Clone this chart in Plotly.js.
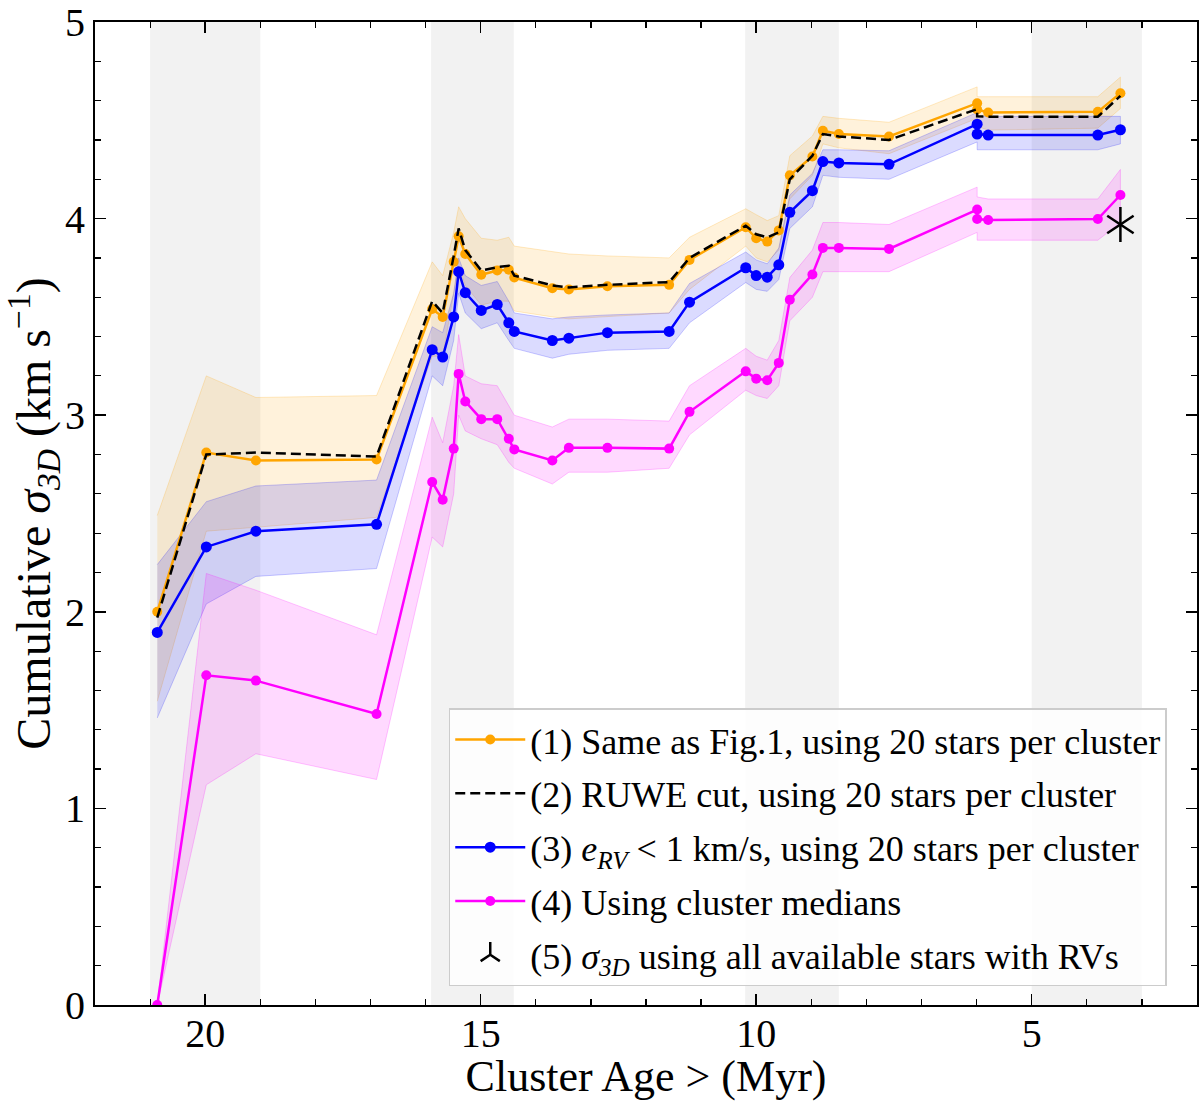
<!DOCTYPE html>
<html>
<head>
<meta charset="utf-8">
<script src="https://cdn.plot.ly/plotly-3.0.1.min.js"></script>
<style>
  html, body { margin: 0; padding: 0; background: #fff; }
  #chart { width: 1200px; height: 1101px; }
</style>
</head>
<body>
<div id="chart"></div>
<script>
// ---- data ----
const ages = [20.87, 19.98, 19.08, 16.89, 15.88, 15.69, 15.49, 15.40, 15.28, 14.99, 14.70, 14.49, 14.39, 13.70, 13.40, 12.70, 11.58, 11.21, 10.19, 10.00, 9.80, 9.59, 9.39, 8.98, 8.79, 8.50, 7.59, 5.99, 5.99, 5.79, 3.80, 3.39];

const sameAsFig1   = [2.00, 2.81, 2.77, 2.775, 3.54, 3.50, 3.78, 3.91, 3.82, 3.714, 3.736, 3.74, 3.70, 3.646, 3.64, 3.656, 3.663, 3.79, 3.956, 3.90, 3.883, 3.94, 4.22, 4.316, 4.447, 4.43, 4.418, 4.587, 4.555, 4.54, 4.543, 4.638];
const sameAsFig1Hi = [2.49, 3.20, 3.09, 3.10, 3.78, 3.71, 3.93, 4.06, 4.00, 3.90, 3.89, 3.905, 3.86, 3.83, 3.82, 3.81, 3.80, 3.905, 4.05, 4.02, 3.99, 4.015, 4.32, 4.42, 4.52, 4.51, 4.49, 4.67, 4.62, 4.62, 4.62, 4.72];
const sameAsFig1Lo = [1.545, 2.41, 2.43, 2.48, 3.30, 3.30, 3.62, 3.76, 3.66, 3.56, 3.58, 3.58, 3.53, 3.50, 3.49, 3.50, 3.52, 3.64, 3.86, 3.80, 3.78, 3.84, 4.10, 4.22, 4.38, 4.36, 4.33, 4.51, 4.47, 4.45, 4.46, 4.56];

const ruweCut = [1.97, 2.80, 2.81, 2.79, 3.58, 3.52, 3.81, 3.95, 3.84, 3.736, 3.753, 3.76, 3.71, 3.66, 3.65, 3.663, 3.677, 3.80, 3.964, 3.92, 3.905, 3.93, 4.20, 4.32, 4.43, 4.418, 4.40, 4.557, 4.52, 4.518, 4.518, 4.624];

const eRVcut   = [1.895, 2.33, 2.41, 2.445, 3.333, 3.296, 3.50, 3.73, 3.623, 3.533, 3.563, 3.47, 3.426, 3.38, 3.392, 3.42, 3.426, 3.575, 3.75, 3.71, 3.702, 3.765, 4.032, 4.142, 4.29, 4.283, 4.276, 4.48, 4.43, 4.425, 4.425, 4.452];
const eRVcutHi = [2.24, 2.56, 2.64, 2.67, 3.45, 3.42, 3.62, 3.80, 3.71, 3.66, 3.68, 3.58, 3.52, 3.49, 3.50, 3.51, 3.52, 3.67, 3.83, 3.79, 3.77, 3.85, 4.12, 4.23, 4.35, 4.35, 4.345, 4.54, 4.52, 4.52, 4.52, 4.52];
const eRVcutLo = [1.46, 2.04, 2.18, 2.22, 3.20, 3.15, 3.38, 3.62, 3.52, 3.44, 3.47, 3.38, 3.34, 3.29, 3.31, 3.33, 3.34, 3.47, 3.675, 3.64, 3.63, 3.69, 3.95, 4.06, 4.22, 4.21, 4.20, 4.39, 4.35, 4.35, 4.35, 4.38];

const medians   = [0.0, 1.677, 1.65, 1.48, 2.66, 2.57, 2.83, 3.21, 3.07, 2.98, 2.98, 2.88, 2.826, 2.77, 2.834, 2.834, 2.83, 3.017, 3.223, 3.186, 3.178, 3.266, 3.587, 3.716, 3.851, 3.851, 3.846, 4.046, 3.998, 3.993, 3.998, 4.12];
const mediansHi = [0.0, 2.195, 2.11, 1.883, 2.99, 2.86, 3.15, 3.41, 3.20, 3.16, 3.15, 3.05, 3.00, 2.94, 2.98, 2.98, 2.97, 3.15, 3.34, 3.30, 3.28, 3.38, 3.70, 3.84, 3.98, 3.98, 3.97, 4.16, 4.11, 4.10, 4.10, 4.25];
const mediansLo = [0.0, 1.12, 1.278, 1.147, 2.38, 2.33, 2.60, 3.00, 2.92, 2.88, 2.85, 2.76, 2.73, 2.65, 2.71, 2.71, 2.73, 2.90, 3.127, 3.10, 3.085, 3.15, 3.48, 3.60, 3.73, 3.73, 3.73, 3.93, 3.89, 3.89, 3.89, 3.98];

const allStarsAge = [3.39];
const allStarsSigma = [3.97];

const bandStart = [21.0, 15.9, 10.2, 5.0];
const bandEnd   = [19.0, 14.4, 8.5, 3.0];

const xTickVals = [20, 15, 10, 5];
const yTickVals = [0, 1, 2, 3, 4, 5];

const legendNames = [
  "(1) Same as Fig.1, using 20 stars per cluster",
  "(2) RUWE cut, using 20 stars per cluster",
  "(3) <i>e<sub>RV</sub></i> &lt; 1 km/s, using 20 stars per cluster",
  "(4) Using cluster medians",
  "(5) <i>σ<sub>3D</sub></i> using all available stars with RVs"
];

// ---- build traces ----
function band(lo, hi, fill, edge) {
  return {
    x: ages.concat(ages.slice().reverse()),
    y: hi.concat(lo.slice().reverse()),
    type: 'scatter', mode: 'lines', fill: 'toself',
    fillcolor: fill, line: {color: edge, width: 1},
    hoverinfo: 'skip', showlegend: false
  };
}

const ORANGE = '#FFA500', BLUE = '#0000FF', PINK = '#FF00FF';

const traces = [
  band(sameAsFig1Lo, sameAsFig1Hi, 'rgba(255,165,0,0.14)', 'rgba(255,165,0,0.22)'),
  band(eRVcutLo, eRVcutHi, 'rgba(0,0,255,0.14)', 'rgba(0,0,255,0.20)'),
  band(mediansLo, mediansHi, 'rgba(255,0,255,0.15)', 'rgba(255,0,255,0.22)'),
  {x: ages, y: sameAsFig1, type: 'scatter', mode: 'lines+markers', name: legendNames[0],
   legendgroup: 'g1', line: {color: ORANGE, width: 2.5}, marker: {color: ORANGE, size: 10}},
  {x: ages, y: ruweCut, type: 'scatter', mode: 'lines', name: legendNames[1],
   legendgroup: 'g2', line: {color: 'black', width: 2.5, dash: '10px,5px'}},
  {x: ages, y: eRVcut, type: 'scatter', mode: 'lines+markers', name: legendNames[2],
   legendgroup: 'g3', line: {color: BLUE, width: 2.5}, marker: {color: BLUE, size: 11}},
  {x: ages, y: medians, type: 'scatter', mode: 'lines+markers', name: legendNames[3],
   legendgroup: 'g4', line: {color: PINK, width: 2.5}, marker: {color: PINK, size: 10}},
  {x: allStarsAge, y: allStarsSigma, type: 'scatter', mode: 'markers', name: legendNames[4],
   legendgroup: 'g5', marker: {symbol: 'y-up-open', size: 22, color: 'black', line: {color: 'black', width: 2.5}}},
  {x: allStarsAge, y: allStarsSigma, type: 'scatter', mode: 'markers', showlegend: false,
   legendgroup: 'g5', hoverinfo: 'skip',
   marker: {symbol: 'y-down-open', size: 22, color: 'black', line: {color: 'black', width: 2.5}}}
];

const shapes = bandStart.map((s, i) => ({
  type: 'rect', xref: 'x', yref: 'paper', x0: s, x1: bandEnd[i], y0: 0, y1: 1,
  fillcolor: '#f2f2f2', line: {width: 0}, layer: 'below'
}));

const FONT = 'Liberation Serif, Times New Roman, serif';

const layout = {
  width: 1200, height: 1101,
  margin: {l: 95, r: 3, t: 22, b: 96},
  paper_bgcolor: '#fff', plot_bgcolor: 'rgba(0,0,0,0)',
  font: {family: FONT, color: 'black', size: 34},
  showlegend: true,
  shapes: shapes,
  xaxis: {
    range: [22, 2], tickvals: xTickVals, ticks: 'inside', ticklen: 11, tickwidth: 1.5,
    minor: {dtick: 1, ticks: 'inside', ticklen: 6, tickwidth: 1.2, tickcolor: 'black'},
    tickcolor: 'black', showgrid: false, zeroline: false,
    showline: true, linecolor: 'black', linewidth: 2, mirror: 'allticks',
    tickfont: {family: FONT, size: 40}, ticklabelstandoff: -8, ticklabeloverflow: 'allow',
    title: {text: 'Cluster Age &gt; (Myr)', font: {family: FONT, size: 44}, standoff: 14}
  },
  yaxis: {
    range: [0, 5], tickvals: yTickVals, ticks: 'inside', ticklen: 11, tickwidth: 1.5,
    minor: {dtick: 0.2, ticks: 'inside', ticklen: 6, tickwidth: 1.2, tickcolor: 'black'},
    tickcolor: 'black', showgrid: false, zeroline: false,
    showline: true, linecolor: 'black', linewidth: 2, mirror: 'allticks',
    tickfont: {family: FONT, size: 40}, ticklabeloverflow: 'allow',
    title: {text: 'Cumulative <i>σ<sub>3D</sub></i> (km s<sup>−1</sup>)', font: {family: FONT, size: 48}, standoff: 2}
  },
  legend: {
    x: 0.321, y: 0.302, xanchor: 'left', yanchor: 'top',
    bgcolor: 'rgba(255,255,255,0.85)', bordercolor: '#cccccc', borderwidth: 1.5,
    font: {family: FONT, size: 36, color: 'black'},
    traceorder: 'grouped', tracegroupgap: 4, itemwidth: 70
  }
};

Plotly.newPlot('chart', traces, layout, {staticPlot: true, displayModeBar: false});
</script>
</body>
</html>
